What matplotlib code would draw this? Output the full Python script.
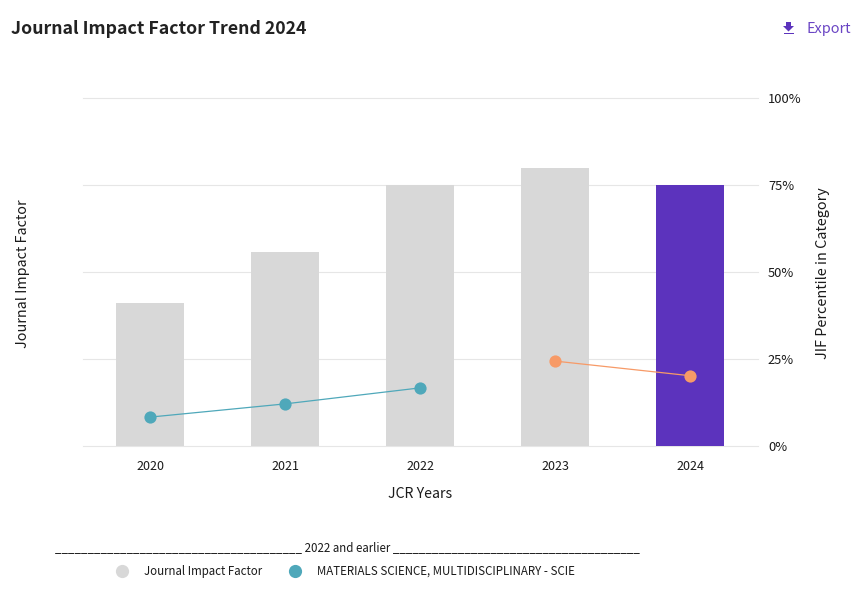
import matplotlib
matplotlib.use('Agg')
import matplotlib.pyplot as plt
from matplotlib.patches import Polygon, Rectangle
from matplotlib.lines import Line2D

plt.rcParams['font.family'] = ['Noto Sans CJK SC', 'DejaVu Sans']

W, H = 864, 595

years = ['2020', '2021', '2022', '2023', '2024']
jif_values = [41.1, 55.8, 75, 79.9, 75]
bar_colors = ['#d8d8d8', '#d8d8d8', '#d8d8d8', '#d8d8d8', '#5c33bd']
teal_years = [0, 1, 2]
teal_values = [8.3, 12.1, 16.7]
orange_years = [3, 4]
orange_values = [24.4, 20.2]
y_ticks = [0, 25, 50, 75, 100]
y_labels = ['0%', '25%', '50%', '75%', '100%']

TEAL = '#4fa8ba'
ORANGE = '#f79a67'
PURPLE = '#5c33bd'
TEXT = '#1a1a1a'


def px(x, y):
    return x / W, 1 - y / H


fig = plt.figure(figsize=(W / 100, H / 100), dpi=100)
ax = fig.add_axes([82.5 / W, 1 - 446 / H, 675 / W, 348 / H])

ax.bar(range(5), jif_values, width=0.5, color=bar_colors, zorder=2)
ax.plot(teal_years, teal_values, color=TEAL, lw=0.9, marker='o', ms=8.8, mew=0, zorder=3)
ax.plot(orange_years, orange_values, color=ORANGE, lw=0.9, marker='o', ms=8.8, mew=0, zorder=3)

ax.set_xlim(-0.5, 4.5)
ax.set_ylim(0, 100)
ax.set_xticks(range(5), years, fontsize=9.0, color=TEXT)
ax.yaxis.tick_right()
ax.set_yticks(y_ticks, y_labels, fontsize=9.3, color=TEXT)
ax.tick_params(axis='x', length=0, pad=10)
ax.tick_params(axis='y', length=0, pad=7.5)
ax.grid(axis='y', color='#e6e6e6', lw=0.8, zorder=1)
ax.set_axisbelow(True)
for side in ['top', 'left', 'right', 'bottom']:
    ax.spines[side].set_visible(False)
for t in ax.get_ygridlines():
    t.set_clip_on(False)

fig.text(*px(11, 28.7), 'Journal Impact Factor Trend 2024', fontsize=12.77, fontweight='bold',
         color='#222222', va='center', ha='left')
fig.text(*px(806, 28.5), 'Export', fontsize=10.4, color='#6a45c4', va='center', ha='left')

# download icon next to Export
fig.add_artist(Polygon([px(786, 22), px(791, 22), px(791, 26), px(794, 26), px(788.5, 31.5), px(783, 26), px(786, 26)],
                       closed=True, color=PURPLE, transform=fig.transFigure, lw=0))
fig.add_artist(Rectangle(px(784, 34), 10 / W, 1.5 / H, color=PURPLE, transform=fig.transFigure, lw=0))

fig.text(*px(23, 273.5), 'Journal Impact Factor', rotation=90, fontsize=10.3, color=TEXT, va='center', ha='center')
fig.text(*px(823, 273), 'JIF Percentile in Category', rotation=90, fontsize=10.35, color=TEXT, va='center', ha='center')
fig.text(*px(420.5, 494.5), 'JCR Years', fontsize=10.2, color=TEXT, va='center', ha='center')

# legend
fig.text(*px(347.5, 547.5), '_' * 38 + ' 2022 and earlier ' + '_' * 38, fontsize=8.3, color=TEXT,
         va='center', ha='center')
fig.add_artist(Line2D([122 / W], [1 - 571 / H], marker='o', ms=9.5, mew=0, color='#d8d8d8',
                      transform=fig.transFigure))
fig.text(*px(144, 571), 'Journal Impact Factor', fontsize=8.3, color=TEXT, va='center', ha='left')
fig.add_artist(Line2D([295 / W], [1 - 571 / H], marker='o', ms=9.5, mew=0, color=TEAL,
                      transform=fig.transFigure))
fig.text(*px(317, 571), 'MATERIALS SCIENCE, MULTIDISCIPLINARY - SCIE', fontsize=8.3, color=TEXT,
         va='center', ha='left')

fig.savefig('out.png', dpi=100)
